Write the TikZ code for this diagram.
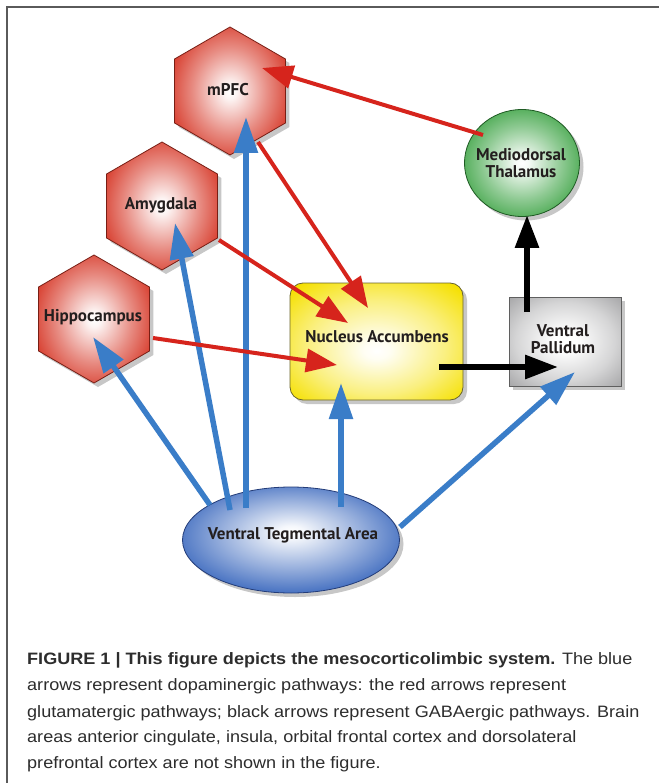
\documentclass[tikz,border=0pt]{standalone}
\usepackage{fontspec}
\setmainfont{Liberation Sans}
\newfontfamily\capfont[FakeStretch=1.095]{Liberation Sans}
\newfontfamily\labelfont{PT Sans}
\usetikzlibrary{shapes.geometric,arrows.meta,shadows,calc}

\definecolor{hexred}{RGB}{212,45,28}
\definecolor{hexedge}{RGB}{120,30,20}
\definecolor{mtgreen}{RGB}{50,158,58}
\definecolor{mtedge}{RGB}{30,90,35}
\definecolor{naccyel}{RGB}{245,224,0}
\definecolor{naccedge}{RGB}{105,100,45}
\definecolor{vpgray}{RGB}{150,150,152}
\definecolor{vpedge}{RGB}{95,95,95}
\definecolor{vtablue}{RGB}{48,96,186}
\definecolor{vtaedge}{RGB}{35,60,120}
\definecolor{arrred}{RGB}{214,36,28}
\definecolor{arrblue}{RGB}{58,125,200}
\definecolor{labeltext}{RGB}{35,30,30}
\definecolor{captext}{RGB}{45,45,45}
\definecolor{framegray}{RGB}{90,90,90}

\pgfdeclareradialshading{redrad}{\pgfpoint{0bp}{0bp}}{color(0bp)=(white); color(3bp)=(white!95!hexred); color(17bp)=(hexred!55!white); color(31bp)=(hexred); color(50bp)=(hexred!78!black)}
\pgfdeclareradialshading{greenrad}{\pgfpoint{0bp}{0bp}}{color(0bp)=(white); color(3bp)=(white!95!mtgreen); color(17bp)=(mtgreen!55!white); color(31bp)=(mtgreen); color(50bp)=(mtgreen!80!black)}
\pgfdeclareradialshading{yellowrad}{\pgfpoint{0bp}{-4bp}}{color(0bp)=(white); color(4bp)=(white!95!naccyel); color(20bp)=(naccyel!50!white); color(34bp)=(naccyel); color(50bp)=(naccyel!93!black)}
\pgfdeclareradialshading{grayrad}{\pgfpoint{0bp}{0bp}}{color(0bp)=(white); color(5bp)=(white); color(22bp)=(vpgray!40!white); color(40bp)=(vpgray); color(50bp)=(vpgray!90!black)}
\pgfdeclareradialshading{bluerad}{\pgfpoint{0bp}{4bp}}{color(0bp)=(white); color(3bp)=(white!95!vtablue); color(16bp)=(vtablue!50!white); color(30bp)=(vtablue); color(50bp)=(vtablue!80!black)}

\begin{document}
\begin{tikzpicture}[x=1pt,y=-1pt,
  lbl/.style={font=\labelfont\bfseries\fontsize{17}{17.5}\selectfont, text=labeltext, align=center},
  shad/.style={drop shadow={shadow xshift=4pt, shadow yshift=-4pt, opacity=0.22, fill=black}},
  hexa/.style={shad, regular polygon, regular polygon sides=6, shape border rotate=30,
    minimum size=128pt, inner sep=0pt, shading=redrad, draw=hexedge, line width=0.8pt},
  redarr/.style={draw=arrred, line width=4pt, -{Triangle[length=31pt,width=23pt]}},
  bluearr/.style={draw=arrblue, line width=5.5pt, -{Triangle[length=36pt,width=23pt]}},
  blackarr/.style={draw=black, line width=6pt, -{Triangle[length=33pt,width=23pt]}},
  capline/.style={anchor=base west, inner sep=0pt, text=captext, font=\capfont\fontsize{16.5}{20}\selectfont}
]
\useasboundingbox (0,0) rectangle (659,783);
\fill[white] (0,0) rectangle (659,783);
\draw[framegray, line width=1.6pt] (7,783) -- (7,7) -- (659,7);

% shapes
\node[hexa] (mpfc) at (230,91) {};
\node[lbl] (mpfct) at (228,90) {mPFC};
\node[hexa] (amyg) at (162,206) {};
\node[lbl] (amygt) at (161,205) {Amygdala};
\node[hexa] (hippo) at (94,319) {};
\node[lbl] (hippot) at (93,317) {Hippocampus};
\node[shad, ellipse, minimum width=115pt, minimum height=107pt, inner sep=0pt,
      shading=greenrad, draw=mtedge, line width=0.8pt] (mt) at (522,163) {};
\node[lbl] (mtt) at (521,163) {Mediodorsal\\Thalamus};
\node[shad, rectangle, rounded corners=13pt, minimum width=173pt, minimum height=117pt,
      shading=yellowrad, draw=naccedge, line width=0.8pt] (nacc) at (376.5,341.5) {};
\node[lbl] (nacct) at (377,337) {Nucleus Accumbens};
\node[shad, rectangle, minimum width=112pt, minimum height=89pt,
      shading=grayrad, draw=vpedge, line width=0.8pt] (vp) at (565,341.5) {};
\node[lbl] (vpt) at (563,339) {Ventral\\Pallidum};
\node[shad, ellipse, minimum width=217pt, minimum height=106pt, inner sep=0pt,
      shading=bluerad, draw=vtaedge, line width=0.8pt] (vta) at (291,540) {};
\node[lbl] (vtat) at (293,535) {Ventral Tegmental Area};

% connector ends
\coordinate (r1s) at ($(mt)+(-39,-28)$);
\coordinate (r1e) at ($(mpfc)+(32,-23)$);
\coordinate (r2s) at ($(mpfc)+(28,51)$);
\coordinate (r2e) at ($(nacc)+(-8.5,-33.5)$);
\coordinate (r3s) at ($(amyg)+(57,34)$);
\coordinate (r3e) at ($(nacc)+(-28.5,-18.5)$);
\coordinate (r4s) at ($(hippo)+(59,19)$);
\coordinate (r4e) at ($(nacc)+(-39.5,23.5)$);
\coordinate (k1s) at ($(nacc)+(62.5,25.5)$);
\coordinate (k1e) at ($(vp)+(-7,25.5)$);
\coordinate (k2s) at ($(vp)+(-38,-29.5)$);
\coordinate (k2e) at ($(mt)+(5,52)$);
\coordinate (b1s) at ($(vta)+(-81,-35)$);
\coordinate (b1e) at ($(hippo)+(-1,18)$);
\coordinate (b2s) at ($(vta)+(-61,-30)$);
\coordinate (b2e) at ($(amyg)+(13,17)$);
\coordinate (b3s) at ($(vta)+(-45,-32)$);
\coordinate (b3e) at ($(mpfc)+(16,26)$);
\coordinate (b4s) at ($(vta)+(50,-33)$);
\coordinate (b4e) at ($(nacc)+(-35.5,41.5)$);
\coordinate (b5s) at ($(vta)+(109,-13)$);
\coordinate (b5e) at ($(vp)+(10,30.5)$);

% connectors
\draw[bluearr] (b1s) -- (b1e);
\draw[bluearr] (b2s) -- (b2e);
\draw[bluearr] (b3s) -- (b3e);
\draw[bluearr] (b4s) -- (b4e);
\draw[bluearr] (b5s) -- (b5e);
\draw[redarr] (r1s) -- (r1e);
\draw[redarr] (r2s) -- (r2e);
\draw[redarr] (r3s) -- (r3e);
\draw[redarr] (r4s) -- (r4e);
\draw[blackarr] (k1s) -- (k1e);
\draw[blackarr] (k2s) -- (k2e);

% caption
\node[capline] (cap1) at (27,664) {\textbf{FIGURE 1 | This figure depicts the mesocorticolimbic system.} The blue};
\node[capline] (cap2) at (27,690.5) {arrows represent dopaminergic pathways: the red arrows represent};
\node[capline] (cap3) at (27,717) {glutamatergic pathways; black arrows represent GABAergic pathways. Brain};
\node[capline] (cap4) at (27,742.5) {areas anterior cingulate, insula, orbital frontal cortex and dorsolateral};
\node[capline] (cap5) at (27,768) {prefrontal cortex are not shown in the figure.};
\end{tikzpicture}
\end{document}
